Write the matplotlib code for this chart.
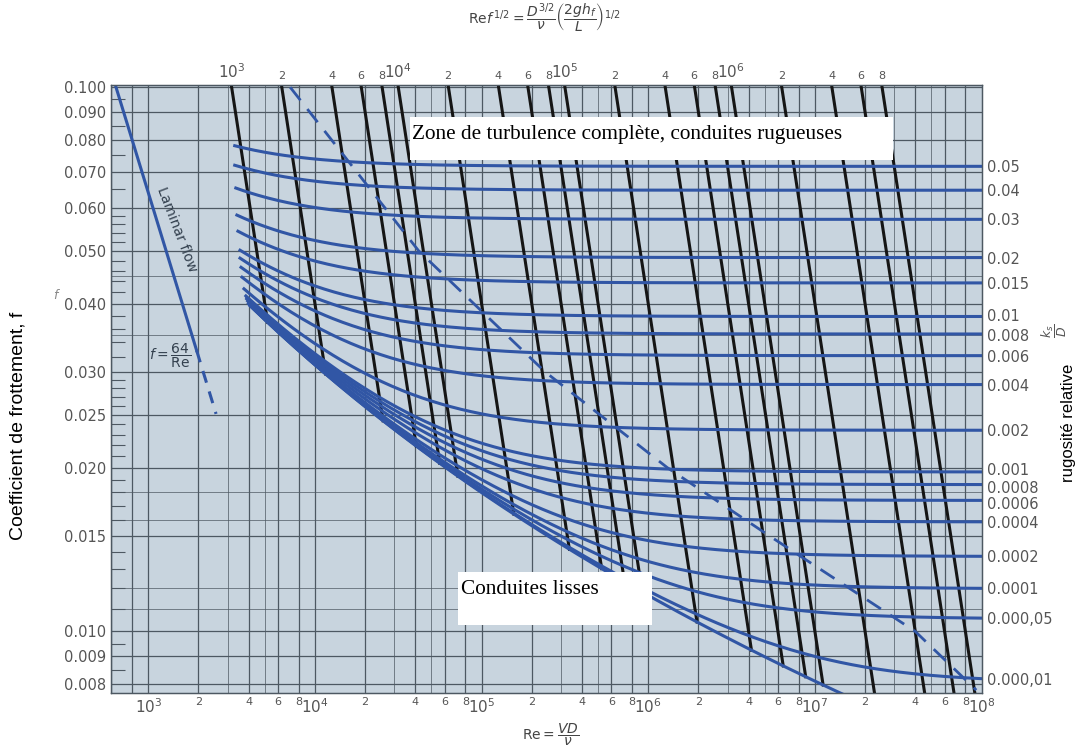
import numpy as np
import matplotlib
matplotlib.use("Agg")
import matplotlib.pyplot as plt
from matplotlib.patches import Rectangle

# relative roughness values of the blue curves (0 = smooth pipe)
roughness = [0.05, 0.04, 0.03, 0.02, 0.015, 0.01, 0.008, 0.006, 0.004, 0.002,
             0.001, 0.0008, 0.0006, 0.0004, 0.0002, 0.0001, 0.00005, 0.00001, 0.0]
roughness_labels = ["0.05", "0.04", "0.03", "0.02", "0.015", "0.01", "0.008", "0.006",
                    "0.004", "0.002", "0.001", "0.0008", "0.0006", "0.0004", "0.0002",
                    "0.0001", "0.000,05", "0.000,01", None]
# small vertical nudges (px) of crowded right labels
label_nudge = [0, 0, 0, 0, 0, -1, 1.5, 0, 0, 0, -2.5, 2.5, 2.5, 0, 0, 0, 0, 0, 0]
curve_start_re = [3300, 3300, 3350, 3400, 3450, 3550, 3550, 3600, 3650, 3750,
                  3850, 3900, 3900, 3950, 4000, 4000, 4050, 4100, 4100]

# constant Re*f^(1/2) lines (black)
re_sqrt_f = [1e3, 2e3, 4e3, 6e3, 8e3, 1e4, 2e4, 4e4, 6e4, 8e4, 1e5, 2e5, 4e5, 6e5, 8e5,
             1e6, 2e6, 4e6, 6e6, 8e6]

# dashed boundary of complete turbulence
dash_re = [7100, 42000, 2.4e5, 1.3e6, 5.3e6, 4.0e7, 9.3e7]
dash_f = [0.100, 0.050, 0.030, 0.020, 0.015, 0.010, 0.0078]

# laminar line end points
lam_solid = [640, 1950]
lam_dash = [1950, 2550]

f_ticks = [0.100, 0.090, 0.080, 0.070, 0.060, 0.050, 0.040, 0.030, 0.025, 0.020,
           0.015, 0.010, 0.009, 0.008]
f_minor = [0.095, 0.085, 0.075, 0.065, 0.058, 0.056, 0.054, 0.052, 0.048, 0.046, 0.044,
           0.042, 0.038, 0.036, 0.034, 0.032, 0.029, 0.028, 0.027, 0.026, 0.024, 0.023,
           0.022, 0.021, 0.019, 0.018, 0.017, 0.016, 0.014, 0.013, 0.012, 0.011,
           0.0095, 0.0085]

decades = [1e3, 1e4, 1e5, 1e6, 1e7, 1e8]
sub = [2, 4, 6, 8]

BLUE = "#3156a5"
BLACK = "#151515"
GRID = "#4d5862"
TXT = "#555555"
F_TOP, F_BOT = 0.101, 0.0077
PX_PER_DEC = 608 / np.log10(F_TOP / F_BOT)

def colebrook(re, eps):
    f = np.full_like(re, 0.03)
    for _ in range(60):
        f = (-2.0 * np.log10(eps / 3.7 + 2.51 / (re * np.sqrt(f)))) ** -2
    return f

fig = plt.figure(figsize=(10.81, 7.51), dpi=100)
ax = fig.add_axes([0.103, 0.077, 0.805, 0.81])
ax.set_facecolor("#c8d4de")
ax.set_xscale("log")
ax.set_yscale("log")
ax.set_xlim(600, 1e8)
ax.set_ylim(F_BOT, F_TOP)

# grid
for d in [1e2, 1e3, 1e4, 1e5, 1e6, 1e7]:
    for m in [1, 2, 4, 6, 8]:
        ax.axvline(d * m, color=GRID, lw=0.9, zorder=1)
    for m in [3, 5]:
        ax.axvline(d * m, color=GRID, lw=0.5, zorder=1)
for v in f_ticks:
    ax.axhline(v, color=GRID, lw=0.9, zorder=1)
for v in [0.045, 0.035, 0.018, 0.016, 0.012, 0.011]:
    ax.axhline(v, color=GRID, lw=0.5, zorder=1)

# laminar
re_l = np.array(lam_solid)
ax.plot(re_l, 64 / re_l, color=BLUE, lw=2.2, zorder=3)
re_l = np.array(lam_dash)
ax.plot(re_l, 64 / re_l, color=BLUE, lw=2.2, ls=(0, (4, 3)), zorder=3)

# black lines Re*sqrt(f) = const, from top down to the smooth pipe curve
for c in re_sqrt_f:
    f_end = max(1.0 / (2 * np.log10(c) - 0.8) ** 2, F_BOT * 0.98)
    ff = np.array([F_TOP * 1.02, f_end])
    ax.plot(c / np.sqrt(ff), ff, color=BLACK, lw=2.2, zorder=4)

# roughness curves
for eps, r0 in zip(roughness, curve_start_re):
    re = np.logspace(np.log10(r0), 8, 300)
    ax.plot(re, colebrook(re, eps), color=BLUE, lw=2.2, zorder=5)

ax.plot(dash_re, dash_f, color=BLUE, lw=2.0, ls=(0, (6, 4)), zorder=5)

# ticks
ax.set_yticks(f_ticks, [f"{v:.3f}" for v in f_ticks])
ax.set_yticks(f_minor, [], minor=True)
ax.tick_params(axis="y", which="major", length=0, pad=4, labelsize=10.5, labelcolor=TXT)
ax.tick_params(axis="y", which="minor", direction="in", length=10, width=0.8, color=GRID)

maj_lbl = [f"$10^{int(np.log10(d))}$" for d in decades]
ax.set_xticks(decades, maj_lbl)
minor_x = [d * m for d in decades[:-1] for m in sub]
ax.set_xticks(minor_x, [str(m) for d in decades[:-1] for m in sub], minor=True)
ax.tick_params(axis="x", which="both", length=0, pad=3, labelcolor=TXT)
ax.tick_params(axis="x", which="major", labelsize=11)
ax.tick_params(axis="x", which="minor", labelsize=8)

sq = np.sqrt(F_TOP)
top = ax.secondary_xaxis("top", functions=(lambda x: x * sq, lambda x: x / sq))
top_dec = [1e3, 1e4, 1e5, 1e6]
top.set_xticks(top_dec, [f"$10^{int(np.log10(d))}$" for d in top_dec])
top_minor = [d * m for d in top_dec for m in sub]
top.set_xticks(top_minor, [str(m) for d in top_dec for m in sub], minor=True)
top.tick_params(axis="x", which="both", length=0, pad=3, labelcolor=TXT)
top.tick_params(axis="x", which="major", labelsize=11)
top.tick_params(axis="x", which="minor", labelsize=8)
top.spines["top"].set_visible(False)

# right side roughness labels
right = ax.twinx()
right.set_yscale("log")
right.set_ylim(ax.get_ylim())
rv, rl = [], []
for eps, lab, nud in zip(roughness, roughness_labels, label_nudge):
    if lab is None:
        continue
    fa = colebrook(np.array([1e8]), eps)[0]
    rv.append(fa * 10 ** (-nud / PX_PER_DEC))
    rl.append(lab)
right.set_yticks(rv, rl)
right.set_yticks([], minor=True)
right.tick_params(axis="y", length=0, pad=4, labelsize=10.5, labelcolor=TXT)

for s in list(ax.spines.values()) + list(right.spines.values()):
    s.set_color(GRID)
    s.set_linewidth(0.9)

# texts
ax.text(0.075, 0.762, "Laminar flow", transform=ax.transAxes, rotation=-69,
        fontsize=10, color="#33404e", ha="center", va="center", zorder=6)
ax.text(0.068, 0.555, r"$f = \dfrac{64}{\mathrm{Re}}$", transform=ax.transAxes,
        fontsize=10, color="#33404e", ha="center", va="center", zorder=6)

fig.patches.append(Rectangle((410 / 1081, 1 - 160 / 751), 483 / 1081, 43 / 751,
                             transform=fig.transFigure, fc="white", ec="none", zorder=8))
fig.text(412 / 1081, 1 - 134 / 751, "Zone de turbulence complète, conduites rugueuses",
         fontsize=15.3, family="Liberation Serif", color="black",
         ha="left", va="center", zorder=9)
fig.patches.append(Rectangle((458 / 1081, 1 - 625 / 751), 194 / 1081, 53 / 751,
                             transform=fig.transFigure, fc="white", ec="none", zorder=8))
fig.text(461 / 1081, 1 - 590 / 751, "Conduites lisses", fontsize=15.3,
         family="Liberation Serif", color="black", ha="left", va="center", zorder=9)

fig.text(0.017, 0.433, "Coefficient de frottement, f", rotation=90, fontsize=14,
         family="Liberation Sans", ha="center", va="center")
fig.text(0.053, 0.607, "$f$", fontsize=9, color="#888888", ha="center", va="center")
fig.text(0.988, 0.437, "rugosité relative", rotation=90, fontsize=12,
         family="Liberation Sans", ha="center", va="center")
fig.text(1054 / 1081, 1 - 331 / 751, r"$\dfrac{k_s}{D}$", rotation=90, fontsize=9,
         color="#555555", ha="center", va="center")
fig.text(0.504, 0.976,
         r"$\mathrm{Re}f^{\,1/2} = \dfrac{D^{3/2}}{\nu}\left(\dfrac{2gh_f}{L}\right)^{1/2}$",
         fontsize=10, color="#444444", ha="center", va="center")
fig.text(0.509, 0.021, r"$\mathrm{Re} = \dfrac{VD}{\nu}$", fontsize=10, color="#444444",
         ha="center", va="center")

fig.savefig("out.png", dpi=100)
